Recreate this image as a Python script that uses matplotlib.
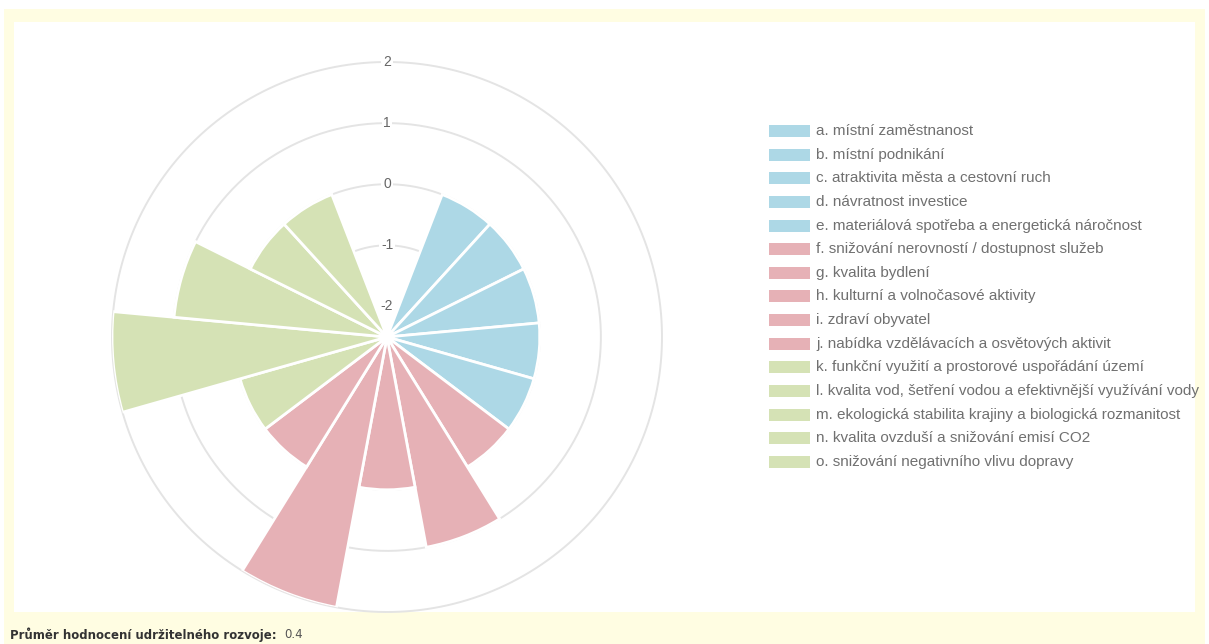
import numpy as np
from matplotlib import pyplot as plt
from matplotlib.patches import Rectangle

# Data
labels = [
    'a. místní zaměstnanost',
    'b. místní podnikání',
    'c. atraktivita města a cestovní ruch',
    'd. návratnost investice',
    'e. materiálová spotřeba a energetická náročnost',
    'f. snižování nerovností / dostupnost služeb',
    'g. kvalita bydlení',
    'h. kulturní a volnočasové aktivity',
    'i. zdraví obyvatel',
    'j. nabídka vzdělávacích a osvětových aktivit',
    'k. funkční využití a prostorové uspořádání území',
    'l. kvalita vod, šetření vodou a efektivnější využívání vody',
    'm. ekologická stabilita krajiny a biologická rozmanitost',
    'n. kvalita ovzduší a snižování emisí CO2',
    'o. snižování negativního vlivu dopravy',
]
values = [0, 0, 0, 0, 0, 0, 1, 0, 2, 0, 0, 2, 1, 0, 0]
ticks = [-2, -1, 0, 1, 2]
r_min, r_max = -2.5, 2

# Styles
colors = ['#add8e6'] * 5 + ['#e6b1b6'] * 5 + ['#d5e2b5'] * 5
n_slots = len(values) + 2   # chart leaves two empty slots at the top
W, H = 1209, 644

fig = plt.figure(figsize=(W / 100, H / 100), dpi=100)
fig.patch.set_facecolor('white')

# page background: yellow frame + white panel
fig.add_artist(Rectangle((4 / W, 0), 1201 / W, 1 - 9 / H, transform=fig.transFigure,
                         fc='#fffde2', ec='none', zorder=0))
fig.add_artist(Rectangle((14 / W, 1 - 612 / H), 1181 / W, 590 / H, transform=fig.transFigure,
                         fc='white', ec='none', zorder=0))

# polar area chart
cx, cy, R = 387, 337, 275
ax = fig.add_axes([(cx - R) / W, 1 - (cy + R) / H, 2 * R / W, 2 * R / H], projection='polar')
ax.set_facecolor('none')
ax.set_theta_zero_location('N')
ax.set_theta_direction(-1)
ax.set_ylim(r_min, r_max)
ax.set_xticks([])
ax.set_yticks([])
ax.grid(False)
ax.spines['polar'].set_visible(False)

th = np.linspace(0, 2 * np.pi, 500)
for t in ticks[1:]:
    ax.plot(th, np.full_like(th, t), color='#e4e4e4', lw=1.4, zorder=1, clip_on=False)

width = 2 * np.pi / n_slots
theta = (np.arange(len(values)) + 1.5) * width
ax.bar(theta, np.array(values) - r_min, width=width, bottom=r_min, color=colors,
       edgecolor='white', linewidth=2, align='center', zorder=2)

for t in ticks:
    ax.text(0, t, str(t), ha='center', va='center', fontsize=10, color='#666666',
            family='Liberation Sans',
            bbox=dict(boxstyle='square,pad=0.12', fc='white', ec='none'), zorder=3)

# legend
for i, (lab, col) in enumerate(zip(labels, colors)):
    y = 131 + i * 23.64
    fig.add_artist(Rectangle((769 / W, 1 - (y + 6) / H), 41 / W, 12 / H,
                             transform=fig.transFigure, fc=col, ec='none', zorder=2))
    fig.text(816 / W, 1 - y / H, lab, va='center', ha='left', fontsize=11,
             color='#707070', family='Liberation Sans')

# average line at the bottom
fig.text(10 / W, 1 - 635 / H, 'Průměr hodnocení udržitelného rozvoje:', va='center',
         ha='left', fontsize=8.5, fontweight='bold', color='#333333')
fig.text(284 / W, 1 - 635 / H, '%.1f' % np.mean(values), va='center', ha='left',
         fontsize=8.5, color='#555555')

fig.savefig('out.png', dpi=100)
